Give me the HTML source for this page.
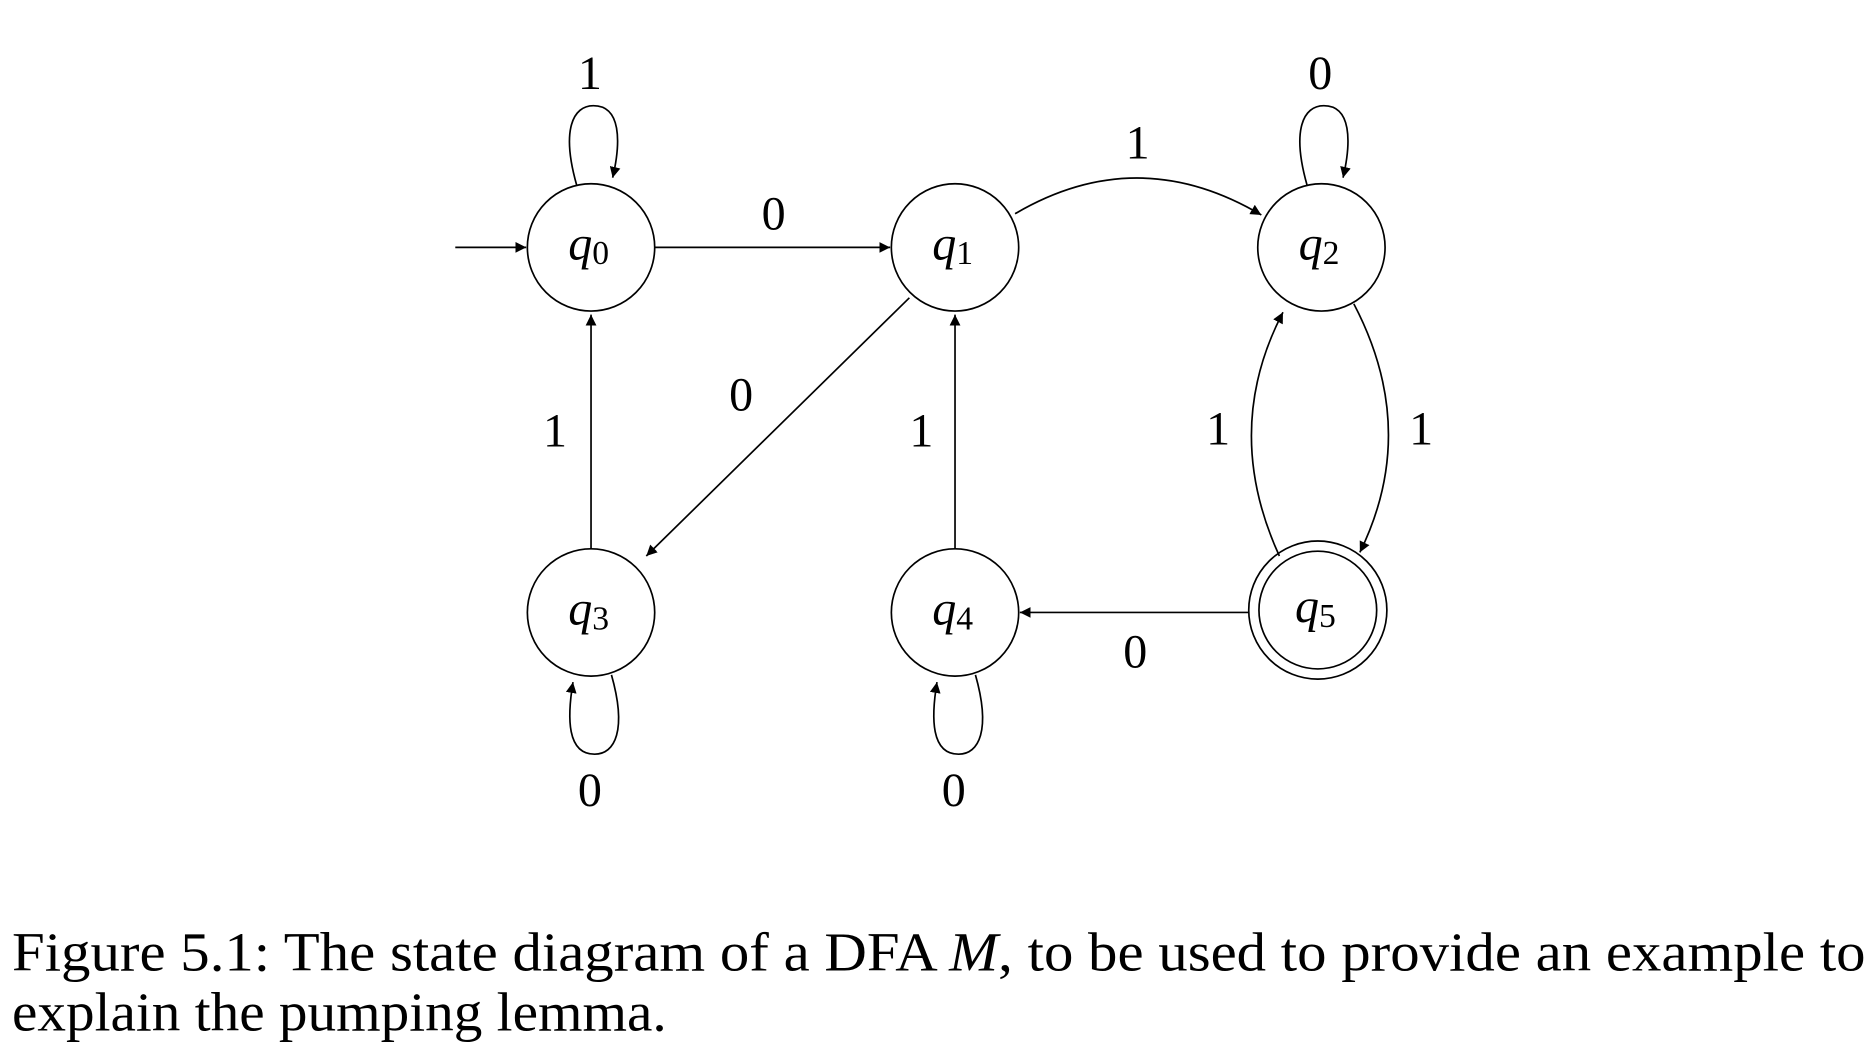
<!DOCTYPE html>
<html><head><meta charset="utf-8"><style>
html,body{margin:0;padding:0;background:#fff;}
svg{display:block;}
text{font-family:"Liberation Serif",serif;fill:#000;}
</style></head><body>
<svg width="1874" height="1052" viewBox="0 0 1560 876" preserveAspectRatio="none" xmlns="http://www.w3.org/2000/svg">
<defs>
<marker id="a" viewBox="0 0 10 10" refX="10" refY="5" markerWidth="9" markerHeight="9" markerUnits="userSpaceOnUse" orient="auto">
<path d="M0,0 L10,5 L0,10 z" fill="#000"/></marker>
</defs>
<g transform="translate(-3,-2)">
<g fill="none" stroke="#000" stroke-width="1.4">
<circle cx="495" cy="208" r="53"/>
<circle cx="798" cy="208" r="53"/>
<circle cx="1103" cy="208" r="53"/>
<circle cx="495" cy="512" r="53"/>
<circle cx="798" cy="512" r="53"/>
<circle cx="1100" cy="510" r="57.5"/>
<circle cx="1100" cy="510" r="49"/>
<line x1="382" y1="208" x2="441" y2="208" marker-end="url(#a)"/>
<line x1="548" y1="208" x2="744" y2="208" marker-end="url(#a)"/>
<path d="M848,180 Q950,120 1053,181" marker-end="url(#a)"/>
<line x1="760" y1="250" x2="541" y2="465" marker-end="url(#a)"/>
<line x1="495" y1="459" x2="495" y2="264" marker-end="url(#a)"/>
<line x1="798" y1="459" x2="798" y2="264" marker-end="url(#a)"/>
<line x1="1043" y1="512" x2="852" y2="512" marker-end="url(#a)"/>
<path d="M1068,465 Q1020,360 1071,262" marker-end="url(#a)"/>
<path d="M1130,255 Q1185,360 1135,462" marker-end="url(#a)"/>
<path d="M483,156 C470,110 480,90 497,90 C520,90 520,120 513,150" marker-end="url(#a)"/>
<path d="M1091,156 C1078,110 1088,90 1105,90 C1128,90 1128,120 1121,150" marker-end="url(#a)"/>
<path d="M512,564 C525,610 515,630 498,630 C475,630 475,600 480,570" marker-end="url(#a)"/>
<path d="M815,564 C828,610 818,630 801,630 C778,630 778,600 783,570" marker-end="url(#a)"/>
</g>
<g font-size="40" text-anchor="middle">
<text x="494" y="76">1</text>
<text x="1102" y="76">0</text>
<text x="950" y="134">1</text>
<text x="647" y="193">0</text>
<text x="620" y="344">0</text>
<text x="465" y="374">1</text>
<text x="770" y="374">1</text>
<text x="1017" y="372">1</text>
<text x="1186" y="372">1</text>
<text x="948" y="558">0</text>
<text x="494" y="673">0</text>
<text x="797" y="673">0</text>
</g>
<g font-size="40" text-anchor="middle" font-style="italic">
<text x="493" y="218">q<tspan font-style="normal" font-size="28" dy="4">0</tspan></text>
<text x="796" y="218">q<tspan font-style="normal" font-size="28" dy="4">1</tspan></text>
<text x="1101" y="218">q<tspan font-style="normal" font-size="28" dy="4">2</tspan></text>
<text x="493" y="522">q<tspan font-style="normal" font-size="28" dy="4">3</tspan></text>
<text x="796" y="522">q<tspan font-style="normal" font-size="28" dy="4">4</tspan></text>
<text x="1098" y="520">q<tspan font-style="normal" font-size="28" dy="4">5</tspan></text>
</g>
</g>
<text x="10" y="808" font-size="46" textLength="1543" lengthAdjust="spacingAndGlyphs">Figure 5.1: The state diagram of a DFA <tspan font-style="italic">M</tspan>, to be used to provide an example to</text>
<text x="10" y="858" font-size="46" textLength="545" lengthAdjust="spacingAndGlyphs">explain the pumping lemma.</text>
</svg>
</body></html>
